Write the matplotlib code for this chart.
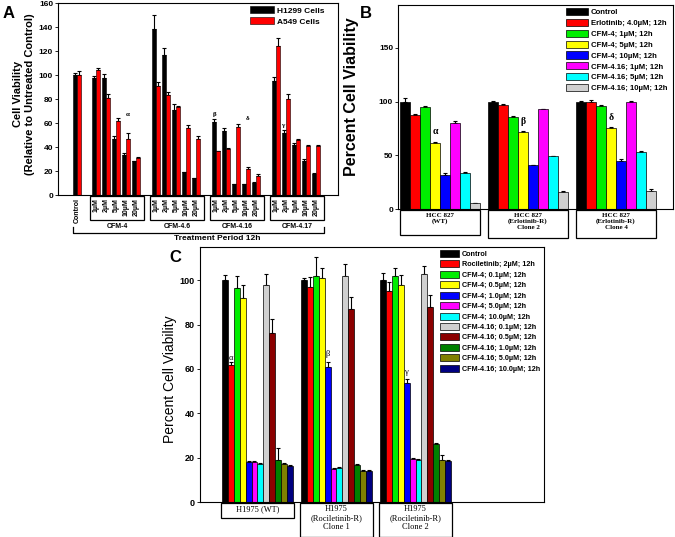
import numpy as np
import matplotlib.pyplot as plt
import matplotlib.transforms as mtransforms
from matplotlib.patches import Rectangle
from matplotlib.lines import Line2D

plt.rcParams['font.family'] = ['Liberation Sans', 'DejaVu Sans']

# ---------------- data, panel A ----------------
a_doses = ["1µM", "2µM", "5µM", "10µM", "20µM"]
a_groups = ["CFM-4", "CFM-4.6", "CFM-4.16", "CFM-4.17"]
a_series = ["H1299 Cells", "A549 Cells"]
# control first, then 4 groups x 5 doses
h1299 = [100, 97.5, 97.5, 47, 33, 28, 138, 117, 70.5, 19, 14,
         61, 53, 9, 9, 10, 95, 52, 42, 28.5, 17.5]
h1299_err = [1.5, 2, 3, 2, 2, 0.5, 12, 5.5, 5, 0.5, 0.5,
             2, 2.5, 0.5, 0.5, 0.5, 3.5, 2.5, 1.5, 1.5, 1]
a549 = [100, 104.5, 81, 61.5, 47, 31, 91, 83.5, 73.5, 56, 47,
        36.5, 38, 57, 21.5, 16, 124.5, 80, 45.5, 41, 41]
a549_err = [3, 1, 3, 3, 5, 0.5, 3, 2, 1, 2.5, 2,
            0.5, 1.5, 2.5, 1.5, 1.5, 6, 4.5, 1, 0.5, 0.5]
# (bar index, series, letter, height)
a_marks = [(4, 1, "α", 65), (11, 0, "β", 65), (14, 1, "δ", 62), (17, 0, "γ", 56)]

# ---------------- data, panel B ----------------
b_labels = ["Control", "Erlotinib; 4.0µM; 12h", "CFM-4; 1µM; 12h", "CFM-4; 5µM; 12h",
            "CFM-4; 10µM; 12h", "CFM-4.16; 1µM; 12h", "CFM-4.16; 5µM; 12h",
            "CFM-4.16; 10µM; 12h"]
b_colors = ["black", "#ff0000", "#00ee00", "#ffff00", "#0000ff", "#ff00ff",
            "#00ffff", "#d0d0d0"]
b_groups = ["HCC 827\n(WT)", "HCC 827\n(Erlotinib-R)\nClone 2", "HCC 827\n(Erlotinib-R)\nClone 4"]
b_values = [[100, 88, 95, 61.5, 32, 80.5, 33.5, 5.2],
            [100, 97.3, 86, 72, 41, 93, 49.3, 16],
            [100, 100, 96, 75, 45, 100, 53.3, 17]]
b_err = [[3.5, 0.6, 1, 0.6, 1.2, 1, 0.6, 0.5],
         [0.6, 0.6, 1, 0.6, 0.3, 0.6, 0.4, 1.2],
         [0.6, 1.2, 0.6, 1, 1.2, 1, 0.5, 1.2]]
b_marks = [(0, 3, "α", 68), (1, 3, "β", 77), (2, 3, "δ", 81)]

# ---------------- data, panel C ----------------
c_labels = ["Control", "Rociletinib; 2µM; 12h", "CFM-4; 0.1µM; 12h", "CFM-4; 0.5µM; 12h",
            "CFM-4; 1.0µM; 12h", "CFM-4; 5.0µM; 12h", "CFM-4; 10.0µM; 12h",
            "CFM-4.16; 0.1µM; 12h", "CFM-4.16; 0.5µM; 12h", "CFM-4.16; 1.0µM; 12h",
            "CFM-4.16; 5.0µM; 12h", "CFM-4.16; 10.0µM; 12h"]
c_colors = ["black", "#ff0000", "#00ee00", "#ffff00", "#0000ff", "#ff00ff", "#00ffff",
            "#d0d0d0", "#8b0000", "#008000", "#808000", "#000080"]
c_groups = ["H1975 (WT)", "H1975\n(Rociletinib-R)\nClone 1", "H1975\n(Rociletinib-R)\nClone 2"]
c_values = [[100, 62, 96.5, 92, 18.2, 18, 17.2, 98, 76, 19, 17.2, 16.3],
            [100, 97, 102, 101, 61, 15, 15.3, 102, 87, 16.5, 14, 14],
            [100, 95, 102, 98, 53.5, 19.5, 19, 103, 88, 26, 19, 18.5]]
c_err = [[2.5, 1, 5.5, 6, 0.5, 0.5, 0.3, 5, 6.5, 5.5, 0.5, 0.3],
         [1.2, 4.5, 8.5, 4.5, 2, 0.3, 0.3, 5.5, 5.5, 0.5, 0.3, 0.3],
         [3.5, 4, 3.5, 4.5, 2, 0.3, 0.3, 3.5, 5.5, 0.5, 2, 0.3]]
c_marks = [(0, 1, "α", 63), (1, 4, "β", 65), (2, 4, "γ", 57)]

fig = plt.figure(figsize=(6.75, 5.37), dpi=100)

def px_axes(x0, y0, x1, y1):
    W, H = 675, 537
    return fig.add_axes([x0 / W, 1 - y1 / H, (x1 - x0) / W, (y1 - y0) / H])

def upper_err(ax, x, y, e, cap):
    ax.errorbar(x, y, yerr=[np.zeros(len(e)), e], fmt="none", ecolor="black",
                elinewidth=0.8, capsize=cap, capthick=0.8, zorder=1)

# ================= panel A =================
axA = px_axes(58, 3, 338, 195)
pos = [1.93] + [3.8 + 6 * g + i for g in range(4) for i in range(5)]
pos = np.array(pos)
w = 0.38
upper_err(axA, pos - w / 2, h1299, h1299_err, 1.2)
upper_err(axA, pos + w / 2, a549, a549_err, 1.2)
axA.bar(pos - w / 2, h1299, w, color="black", edgecolor="black", lw=0.4,
        label=a_series[0], zorder=2)
axA.bar(pos + w / 2, a549, w, color="#ff0000", edgecolor="black", lw=0.4,
        label=a_series[1], zorder=2)
for i, s, txt, yv in a_marks:
    axA.text(pos[i] + (w / 2 if s else -w / 2), yv, txt, ha="center", va="bottom",
             fontsize=5, fontweight="bold", family="Liberation Serif")
axA.set_xlim(0, 28)
axA.set_ylim(0, 160)
axA.set_yticks(range(0, 161, 20))
axA.tick_params(axis="y", labelsize=6, length=2, width=0.6, pad=1.5)
for t in axA.get_yticklabels():
    t.set_fontweight("bold")
axA.set_xticks(pos)
axA.set_xticklabels(["Control"] + a_doses * 4, rotation=90, fontsize=5,
                    fontweight="bold")
axA.tick_params(axis="x", length=0, pad=2)
for sp in axA.spines.values():
    sp.set_linewidth(0.8)

trA = mtransforms.blended_transform_factory(axA.transData, axA.transAxes)
for g, name in enumerate(a_groups):
    c = 3.8 + 6 * g + 2.1
    axA.add_patch(Rectangle((c - 2.7, -0.13), 5.4, 0.123, transform=trA, fill=False,
                            lw=0.9, clip_on=False))
    axA.text(c, -0.162, name, transform=trA, ha="center", va="center", fontsize=5,
             fontweight="bold")
axA.add_line(Line2D([1.5, 1.5, 26.6, 26.6], [-0.167, -0.198, -0.198, -0.167],
                    transform=trA, color="black", lw=0.9, clip_on=False))
axA.text(15.9, -0.229, "Treatment Period 12h", transform=trA, ha="center",
         va="center", fontsize=6, fontweight="bold")
axA.legend(loc="upper left", bbox_to_anchor=(0.675, 1.0), frameon=False,
           prop={"size": 6, "weight": "bold"}, handlelength=2.8, handleheight=0.9,
           handletextpad=0.4, labelspacing=0.3, borderaxespad=0.2, borderpad=0.2)
fig.text(24 / 675, 1 - 94 / 537, "Cell Viability\n(Relative to Untreated Control)",
         rotation=90, ha="center", va="center", fontsize=8, fontweight="bold")
fig.text(9 / 675, 1 - 14 / 537, "A", ha="center", va="center", fontsize=12,
         fontweight="bold")

# ================= panel B =================
axB = px_axes(398, 5, 673, 209)
for g in range(3):
    x = g * 8.8 + np.arange(8)
    upper_err(axB, x, b_values[g], b_err[g], 1.3)
    axB.bar(x, b_values[g], 1.0, color=b_colors, edgecolor="black", lw=0.5, zorder=2,
            label=b_labels if g == 0 else None)
for g, j, txt, yv in b_marks:
    axB.text(g * 8.8 + j, yv, txt, ha="center", va="bottom", fontsize=7,
             fontweight="bold", family="Liberation Serif")
axB.set_xlim(-0.7, 26.8)
axB.set_ylim(0, 190)
axB.set_yticks([0, 50, 100, 150])
axB.set_xticks([])
axB.tick_params(axis="y", labelsize=6, length=2, width=0.6, pad=1.5)
for t in axB.get_yticklabels():
    t.set_fontweight("bold")
for sp in axB.spines.values():
    sp.set_linewidth(0.8)
trB = mtransforms.blended_transform_factory(axB.transData, axB.transAxes)
for g, name in enumerate(b_groups):
    x0 = g * 8.8 - 0.5
    hb = 0.122 if g == 0 else 0.137
    axB.add_patch(Rectangle((x0, -0.005 - hb), 8, hb, transform=trB, fill=False,
                            lw=0.9, clip_on=False))
    axB.text(x0 + 4, -0.018, name, transform=trB, ha="center", va="top", fontsize=5,
             fontweight="bold", family="Liberation Serif", linespacing=1.15)
axB.legend(loc="upper left", bbox_to_anchor=(0.6, 1.0), frameon=False,
           prop={"size": 5.6, "weight": "bold"}, handlelength=2.8, handleheight=1.05,
           handletextpad=0.4, labelspacing=0.33, borderaxespad=0.2, borderpad=0.2)
fig.text(352 / 675, 1 - 97 / 537, "Percent Cell Viability", rotation=90, ha="center",
         va="center", fontsize=11.5, fontweight="bold")
fig.text(366 / 675, 1 - 13 / 537, "B", ha="center", va="center", fontsize=12,
         fontweight="bold")

# ================= panel C =================
axC = px_axes(200, 247, 544, 502)
for g in range(3):
    x = g * 13.35 + np.arange(12)
    upper_err(axC, x, c_values[g], c_err[g], 1.6)
    axC.bar(x, c_values[g], 1.0, color=c_colors, edgecolor="black", lw=0.5, zorder=2,
            label=c_labels if g == 0 else None)
for g, j, txt, yv in c_marks:
    axC.text(g * 13.35 + j, yv, txt, ha="center", va="bottom", fontsize=6,
             family="Liberation Serif")
axC.set_xlim(-4.2, 53.9)
axC.set_ylim(0, 115)
axC.set_yticks(range(0, 101, 20))
axC.set_xticks([])
axC.tick_params(axis="y", labelsize=6.5, length=2.5, width=0.6, pad=1.5)
for t in axC.get_yticklabels():
    t.set_fontweight("bold")
for sp in axC.spines.values():
    sp.set_linewidth(0.8)
trC = mtransforms.blended_transform_factory(axC.transData, axC.transAxes)
for g, name in enumerate(c_groups):
    x0 = g * 13.35 - 0.65
    hb = 0.06 if g == 0 else 0.133
    axC.add_patch(Rectangle((x0, -0.004 - hb), 12.3, hb, transform=trC, fill=False,
                            lw=0.9, clip_on=False))
    axC.text(x0 + 6.15, -0.012, name, transform=trC, ha="center", va="top",
             fontsize=6, family="Liberation Serif", linespacing=1.15)
axC.legend(loc="upper left", bbox_to_anchor=(0.69, 1.0), frameon=False,
           prop={"size": 5.2, "weight": "bold"}, handlelength=2.6, handleheight=1.1,
           handletextpad=0.4, labelspacing=0.35, borderaxespad=0.2, borderpad=0.2)
fig.text(170 / 675, 1 - 379 / 537, "Percent Cell Viability", rotation=90, ha="center",
         va="center", fontsize=10)
fig.text(175 / 675, 1 - 258 / 537, "C", ha="center", va="center", fontsize=12,
         fontweight="bold")

fig.savefig("out.png", dpi=100)
